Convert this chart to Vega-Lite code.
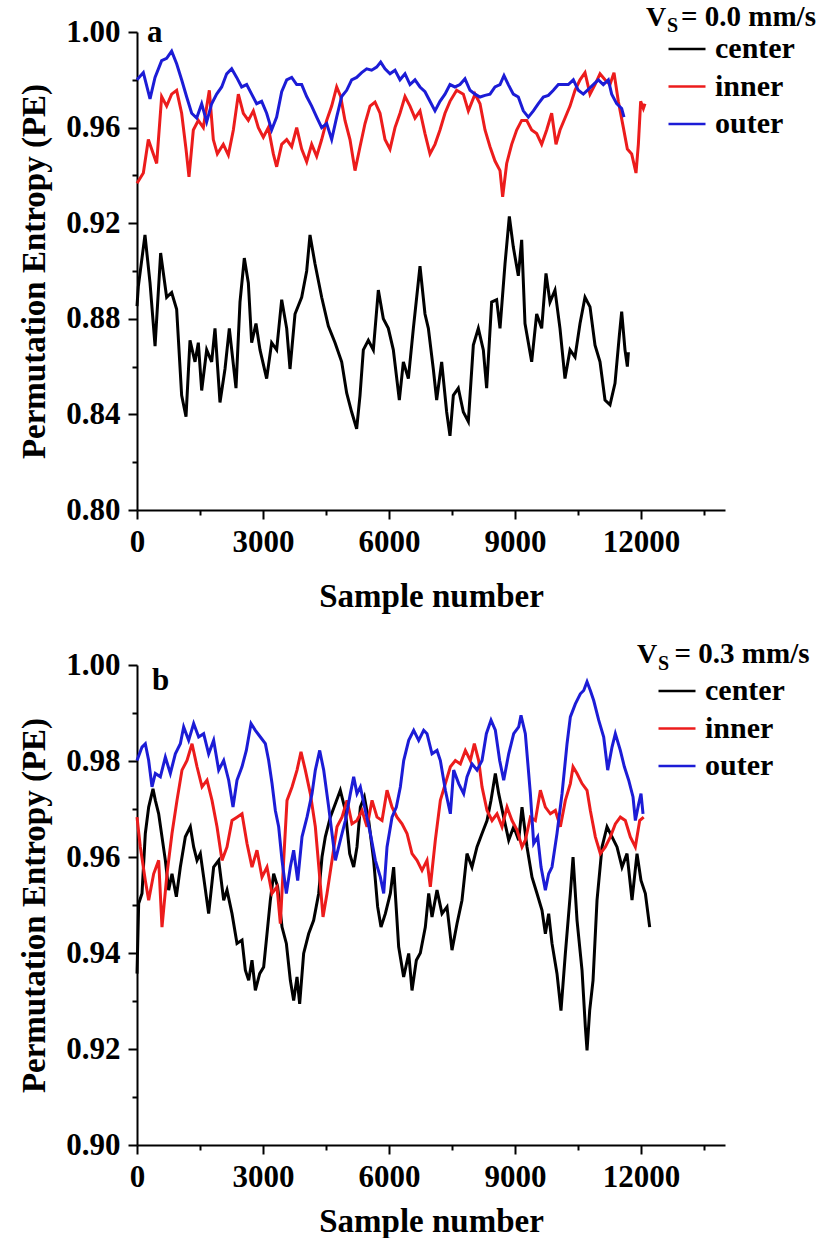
{
  "$schema": "https://vega.github.io/schema/vega-lite/v6.json",
  "background": "white",
  "padding": {"left": 18, "top": 3, "right": 0, "bottom": 0},
  "resolve": {"scale": {"color": "independent"}, "legend": {"color": "independent"}},
  "config": {
    "font": "Liberation Serif",
    "view": {"stroke": null},
    "concat": {"spacing": 27},
    "axis": {
      "grid": false,
      "domainColor": "#000000",
      "domainWidth": 2,
      "tickColor": "#000000",
      "tickWidth": 2,
      "labelFont": "Liberation Serif",
      "labelFontWeight": "bold",
      "labelFontSize": 31,
      "labelColor": "#000000",
      "labelPadding": 8,
      "labelOverlap": false,
      "labelFlush": false,
      "titleFont": "Liberation Serif",
      "titleFontWeight": "bold",
      "titleFontSize": 33,
      "titleColor": "#000000"
    },
    "legend": {
      "labelFont": "Liberation Serif",
      "labelFontWeight": "bold",
      "labelFontSize": 30,
      "labelColor": "#000000",
      "symbolType": "stroke",
      "symbolSize": 1369,
      "symbolStrokeWidth": 2.5,
      "labelOffset": 8,
      "rowPadding": 2.5
    },
    "text": {"font": "Liberation Serif", "fontWeight": "bold", "color": "#000000", "align": "left", "baseline": "alphabetic"}
  },
  "vconcat": [
    {
      "width": 588,
      "height": 478,
      "layer": [
        {
          "data": {"values": [
            {"s": "center",
             "x": [0,32,190,310,430,563,706,825,944,1063,1167,1262,1381,1460,1540,1659,1778,1857,1976,2095,2198,2357,2452,2555,2651,2730,2833,2929,3087,3206,3325,3445,3564,3643,3762,3921,4040,4119,4238,4397,4556,4715,4873,4992,5111,5230,5310,5389,5508,5627,5746,5865,5984,6103,6246,6342,6461,6580,6738,6857,6937,7055,7135,7254,7373,7452,7532,7650,7770,7889,8008,8127,8246,8325,8444,8563,8643,8762,8865,8960,9079,9159,9238,9318,9397,9516,9635,9738,9833,9952,10071,10190,10310,10429,10548,10667,10786,10905,11024,11143,11262,11381,11484,11540,11619,11675,11700],
             "y": [0.8853,0.8936,0.9151,0.895,0.8686,0.9075,0.889,0.891,0.884,0.848,0.839,0.871,0.862,0.870,0.850,0.867,0.862,0.876,0.845,0.859,0.876,0.851,0.887,0.9054,0.895,0.870,0.878,0.867,0.855,0.870,0.867,0.888,0.876,0.859,0.882,0.889,0.900,0.9151,0.903,0.889,0.877,0.870,0.862,0.849,0.841,0.834,0.848,0.867,0.871,0.867,0.892,0.880,0.876,0.867,0.846,0.862,0.855,0.876,0.902,0.882,0.876,0.859,0.846,0.862,0.841,0.831,0.848,0.851,0.841,0.837,0.869,0.876,0.867,0.851,0.887,0.888,0.876,0.903,0.9228,0.910,0.898,0.913,0.878,0.870,0.862,0.882,0.876,0.899,0.887,0.892,0.876,0.855,0.867,0.864,0.878,0.889,0.885,0.869,0.862,0.846,0.844,0.853,0.873,0.883,0.867,0.860,0.866]},
            {"s": "inner",
             "x": [0,151,270,389,468,587,706,825,944,1063,1167,1238,1341,1460,1579,1722,1817,1913,2055,2175,2294,2413,2532,2651,2770,2889,3008,3127,3246,3325,3445,3564,3683,3802,3921,4040,4159,4278,4397,4516,4635,4754,4849,4952,5071,5191,5310,5429,5548,5667,5786,5905,6024,6143,6262,6381,6500,6619,6738,6857,6976,7095,7214,7333,7452,7611,7770,7889,8048,8167,8286,8405,8524,8643,8706,8802,8921,9040,9159,9278,9397,9516,9635,9754,9873,9976,10072,10191,10310,10429,10548,10667,10786,10905,11024,11143,11262,11357,11460,11580,11675,11778,11881,11937,11992,12056,12095],
             "y": [0.9367,0.941,0.955,0.949,0.945,0.973,0.969,0.974,0.9756,0.966,0.951,0.9394,0.959,0.963,0.960,0.9756,0.955,0.949,0.953,0.9485,0.959,0.974,0.966,0.963,0.967,0.960,0.956,0.960,0.949,0.9436,0.953,0.955,0.952,0.960,0.951,0.9457,0.953,0.948,0.955,0.963,0.969,0.977,0.973,0.963,0.955,0.942,0.952,0.9617,0.969,0.9707,0.966,0.955,0.951,0.960,0.966,0.973,0.969,0.964,0.967,0.9575,0.949,0.953,0.959,0.966,0.971,0.9756,0.974,0.967,0.974,0.970,0.959,0.952,0.946,0.942,0.931,0.945,0.953,0.959,0.963,0.963,0.959,0.9575,0.953,0.959,0.966,0.953,0.959,0.964,0.969,0.9756,0.98,0.983,0.974,0.978,0.9825,0.98,0.978,0.983,0.971,0.960,0.951,0.949,0.941,0.953,0.971,0.968,0.970]},
            {"s": "outer",
             "x": [0,151,310,429,587,706,825,944,1063,1183,1302,1421,1540,1659,1778,1897,2016,2135,2254,2373,2492,2611,2730,2849,2968,3087,3206,3325,3445,3564,3683,3802,3921,4040,4159,4278,4397,4516,4635,4754,4873,4992,5111,5230,5349,5468,5587,5706,5802,5905,6024,6143,6262,6381,6500,6619,6738,6857,6976,7095,7214,7333,7452,7571,7690,7809,7929,8048,8167,8286,8405,8524,8643,8738,8841,8960,9079,9198,9318,9437,9556,9675,9794,9913,10032,10151,10270,10389,10508,10627,10746,10865,10984,11103,11222,11302,11421,11540,11595],
             "y": [0.98,0.983,0.972,0.981,0.988,0.989,0.992,0.9867,0.98,0.9728,0.966,0.964,0.970,0.9624,0.970,0.974,0.977,0.9825,0.9846,0.981,0.977,0.978,0.974,0.970,0.971,0.966,0.959,0.9644,0.975,0.98,0.981,0.978,0.978,0.973,0.969,0.9644,0.960,0.9617,0.955,0.9644,0.973,0.9756,0.98,0.981,0.983,0.9846,0.984,0.9853,0.9874,0.9846,0.9825,0.984,0.98,0.9825,0.978,0.98,0.977,0.975,0.971,0.967,0.971,0.974,0.978,0.977,0.978,0.9804,0.9756,0.974,0.9728,0.9735,0.974,0.977,0.978,0.9818,0.978,0.974,0.9728,0.967,0.9644,0.967,0.970,0.9728,0.9735,0.9756,0.978,0.978,0.978,0.98,0.9756,0.974,0.976,0.978,0.98,0.978,0.98,0.974,0.970,0.968,0.9644]}
          ]},
          "transform": [{"flatten": ["x", "y"]}],
          "mark": {"type": "line", "strokeWidth": 3, "strokeJoin": "miter"},
          "encoding": {
            "x": {"field": "x", "type": "quantitative",
              "scale": {"domain": [0, 14000], "nice": false},
              "axis": {"title": "Sample number", "titlePadding": 23,
                "values": [0,1500,3000,4500,6000,7500,9000,10500,12000,13500],
                "format": "d",
                "labelExpr": "datum.value % 3000 == 0 ? datum.label : ''",
                "tickSize": {"condition": {"test": "datum.value % 3000 == 0", "value": 9}, "value": 5}}},
            "y": {"field": "y", "type": "quantitative",
              "scale": {"domain": [0.8, 1.0], "nice": false, "zero": false},
              "axis": {"title": "Permutation Entropy (PE)", "titlePadding": 14,
                "values": [0.8,0.82,0.84,0.86,0.88,0.9,0.92,0.94,0.96,0.98,1.0],
                "format": ".2f",
                "labelExpr": "round(datum.value*100) % 4 == 0 ? datum.label : ''",
                "tickSize": {"condition": {"test": "round(datum.value*100) % 4 == 0", "value": 9}, "value": 5}}},
            "color": {"field": "s", "type": "nominal",
              "scale": {"domain": ["center", "inner", "outer"], "range": ["#000000", "#ec1c1c", "#1c1cd6"]},
              "legend": {"orient": "none", "legendX": 530, "legendY": -3, "title": null}}
          }
        },
        {
          "data": {"values": [{"t": "a"}]},
          "mark": {"type": "text", "fontSize": 31},
          "encoding": {"x": {"datum": 238, "type": "quantitative"}, "y": {"datum": 0.9958, "type": "quantitative"}, "text": {"field": "t"}}
        },
        {
          "data": {"values": [{"t": "V"}]},
          "mark": {"type": "text", "fontSize": 28},
          "encoding": {"x": {"datum": 12120, "type": "quantitative"}, "y": {"datum": 1.0025, "type": "quantitative"}, "text": {"field": "t"}}
        },
        {
          "data": {"values": [{"t": "S"}]},
          "mark": {"type": "text", "fontSize": 20},
          "encoding": {"x": {"datum": 12620, "type": "quantitative"}, "y": {"datum": 1.0, "type": "quantitative"}, "text": {"field": "t"}}
        },
        {
          "data": {"values": [{"t": "= 0.0 mm/s"}]},
          "mark": {"type": "text", "fontSize": 29},
          "encoding": {"x": {"datum": 12953, "type": "quantitative"}, "y": {"datum": 1.0025, "type": "quantitative"}, "text": {"field": "t"}}
        }
      ]
    },
    {
      "width": 588,
      "height": 480,
      "layer": [
        {
          "data": {"values": [
            {"s": "center",
             "x": [0,40,119,198,278,381,437,516,595,675,754,833,937,1032,1151,1270,1349,1429,1508,1587,1706,1825,1945,2064,2143,2262,2381,2500,2580,2659,2738,2818,2921,3016,3095,3175,3254,3349,3453,3556,3651,3730,3810,3873,3968,4087,4206,4326,4405,4484,4603,4722,4841,4960,5064,5159,5238,5318,5413,5516,5635,5730,5810,5913,6032,6111,6230,6349,6469,6548,6651,6746,6865,6945,7024,7143,7262,7381,7500,7619,7738,7857,7976,8095,8215,8334,8429,8532,8612,8730,8850,8969,9088,9167,9286,9405,9524,9643,9723,9802,9881,10000,10095,10199,10318,10382,10477,10596,10675,10715,10778,10858,10953,11072,11191,11310,11429,11548,11667,11786,11905,12000,12104,12207],
             "y": [0.9357,0.9503,0.9524,0.9649,0.9704,0.9742,0.9718,0.969,0.9642,0.9593,0.9531,0.9565,0.9517,0.9579,0.9642,0.9663,0.9621,0.9593,0.9607,0.9558,0.9482,0.9579,0.9593,0.951,0.9531,0.9482,0.942,0.9427,0.9364,0.9343,0.9385,0.9322,0.9357,0.9371,0.944,0.951,0.9565,0.9538,0.9454,0.942,0.9343,0.9301,0.935,0.9294,0.9399,0.944,0.9468,0.9524,0.96,0.9642,0.9683,0.9711,0.9739,0.9697,0.9607,0.9579,0.9621,0.9704,0.9725,0.9676,0.9593,0.9496,0.9454,0.9482,0.9524,0.9579,0.9413,0.935,0.9399,0.9322,0.9385,0.940,0.9454,0.9524,0.9475,0.9531,0.9482,0.9496,0.9406,0.9461,0.951,0.9607,0.9579,0.9621,0.9649,0.9676,0.9718,0.9774,0.9732,0.9683,0.9635,0.9663,0.9635,0.9704,0.9621,0.9558,0.9524,0.9489,0.944,0.9482,0.942,0.9357,0.928,0.9399,0.9524,0.96,0.9468,0.9364,0.9246,0.9197,0.928,0.9343,0.951,0.9621,0.9663,0.9642,0.9621,0.9579,0.9607,0.951,0.9607,0.9551,0.9524,0.9454]},
            {"s": "inner",
             "x": [0,79,198,278,397,516,595,714,833,952,1071,1191,1310,1429,1548,1667,1786,1905,2024,2143,2262,2381,2500,2619,2738,2857,2976,3095,3214,3334,3413,3492,3572,3691,3810,3905,4008,4127,4246,4350,4429,4524,4643,4762,4881,5000,5119,5238,5357,5477,5596,5715,5834,5953,6072,6191,6310,6429,6548,6667,6786,6905,6984,7103,7223,7342,7461,7580,7699,7818,7937,8032,8135,8215,8334,8453,8572,8691,8810,8929,9048,9167,9246,9366,9485,9604,9723,9842,9961,10080,10199,10318,10382,10477,10596,10715,10794,10913,11032,11151,11270,11389,11508,11627,11746,11865,11969,12064],
             "y": [0.9683,0.9621,0.9551,0.951,0.9565,0.9593,0.9454,0.9565,0.9649,0.9718,0.9781,0.9801,0.9836,0.9788,0.9746,0.976,0.9718,0.9663,0.9593,0.9621,0.9676,0.9683,0.969,0.9628,0.9579,0.9614,0.9558,0.9579,0.9524,0.9538,0.9461,0.9593,0.9718,0.9746,0.9781,0.9819,0.9781,0.9732,0.9663,0.9558,0.9475,0.9524,0.9593,0.9663,0.9683,0.9718,0.9669,0.9676,0.9697,0.9663,0.9718,0.9683,0.9676,0.9739,0.9704,0.9683,0.9669,0.9649,0.9607,0.9593,0.9572,0.9593,0.9538,0.9635,0.9718,0.9753,0.9788,0.9801,0.9794,0.9822,0.9801,0.9836,0.9801,0.9746,0.9697,0.9676,0.969,0.9663,0.9704,0.9676,0.9656,0.9621,0.9635,0.9683,0.9676,0.9739,0.9704,0.969,0.9697,0.9663,0.9718,0.9753,0.9788,0.9774,0.9753,0.9739,0.9697,0.9642,0.9607,0.9621,0.9642,0.9669,0.9683,0.9676,0.9642,0.9621,0.9676,0.9683]},
            {"s": "outer",
             "x": [0,119,198,278,357,437,556,675,794,913,1032,1111,1230,1349,1468,1587,1706,1825,1945,2064,2183,2286,2381,2500,2603,2715,2818,2937,3056,3135,3215,3294,3373,3453,3556,3651,3730,3826,3929,4048,4167,4246,4350,4445,4564,4643,4723,4842,4961,5080,5159,5238,5318,5437,5556,5675,5794,5874,5953,6072,6175,6270,6350,6469,6588,6707,6826,6905,7024,7143,7223,7342,7461,7540,7659,7778,7857,7976,8096,8215,8318,8429,8532,8635,8731,8850,8969,9088,9143,9246,9366,9445,9540,9620,9723,9802,9881,10000,10120,10239,10318,10437,10556,10636,10715,10794,10874,10993,11112,11207,11310,11389,11508,11604,11707,11810,11866,11945,12000,12048],
             "y": [0.9801,0.9829,0.9836,0.9801,0.9746,0.9774,0.9767,0.9808,0.9774,0.9815,0.9836,0.9871,0.9843,0.9878,0.985,0.9857,0.9815,0.9843,0.9781,0.9801,0.976,0.9704,0.976,0.9788,0.9822,0.9878,0.9864,0.985,0.9836,0.9801,0.9753,0.9697,0.9663,0.9593,0.9524,0.9579,0.9614,0.9551,0.9642,0.9683,0.9732,0.9781,0.9822,0.9781,0.9704,0.9649,0.9593,0.9635,0.9676,0.9732,0.9767,0.9732,0.9746,0.9697,0.9649,0.9593,0.9558,0.9524,0.9621,0.9683,0.9704,0.9746,0.9801,0.9843,0.9864,0.9843,0.9864,0.9857,0.9815,0.9822,0.9801,0.9739,0.969,0.9781,0.9753,0.9732,0.9767,0.9794,0.9781,0.9801,0.9857,0.9885,0.9864,0.9801,0.976,0.9815,0.9857,0.9871,0.9895,0.9857,0.9732,0.9628,0.9642,0.9579,0.9531,0.9565,0.9579,0.9649,0.9732,0.9836,0.9892,0.9919,0.994,0.9947,0.9965,0.9947,0.9926,0.9885,0.985,0.9781,0.9829,0.9857,0.9822,0.9788,0.976,0.9725,0.9676,0.9711,0.9732,0.969]}
          ]},
          "transform": [{"flatten": ["x", "y"]}],
          "mark": {"type": "line", "strokeWidth": 3, "strokeJoin": "miter"},
          "encoding": {
            "x": {"field": "x", "type": "quantitative",
              "scale": {"domain": [0, 14000], "nice": false},
              "axis": {"title": "Sample number", "titlePadding": 13,
                "values": [0,1500,3000,4500,6000,7500,9000,10500,12000,13500],
                "format": "d",
                "labelExpr": "datum.value % 3000 == 0 ? datum.label : ''",
                "tickSize": {"condition": {"test": "datum.value % 3000 == 0", "value": 9}, "value": 5}}},
            "y": {"field": "y", "type": "quantitative",
              "scale": {"domain": [0.9, 1.0], "nice": false, "zero": false},
              "axis": {"title": "Permutation Entropy (PE)", "titlePadding": 14,
                "values": [0.9,0.91,0.92,0.93,0.94,0.95,0.96,0.97,0.98,0.99,1.0],
                "format": ".2f",
                "labelExpr": "round(datum.value*100) % 2 == 0 ? datum.label : ''",
                "tickSize": {"condition": {"test": "round(datum.value*100) % 2 == 0", "value": 9}, "value": 5}}},
            "color": {"field": "s", "type": "nominal",
              "scale": {"domain": ["center", "inner", "outer"], "range": ["#000000", "#ec1c1c", "#1c1cd6"]},
              "legend": {"orient": "none", "legendX": 520, "legendY": 6, "title": null}}
          }
        },
        {
          "data": {"values": [{"t": "b"}]},
          "mark": {"type": "text", "fontSize": 31},
          "encoding": {"x": {"datum": 357, "type": "quantitative"}, "y": {"datum": 0.9948, "type": "quantitative"}, "text": {"field": "t"}}
        },
        {
          "data": {"values": [{"t": "V"}]},
          "mark": {"type": "text", "fontSize": 28},
          "encoding": {"x": {"datum": 11905, "type": "quantitative"}, "y": {"datum": 1.0004, "type": "quantitative"}, "text": {"field": "t"}}
        },
        {
          "data": {"values": [{"t": "S"}]},
          "mark": {"type": "text", "fontSize": 20},
          "encoding": {"x": {"datum": 12405, "type": "quantitative"}, "y": {"datum": 0.9990, "type": "quantitative"}, "text": {"field": "t"}}
        },
        {
          "data": {"values": [{"t": "= 0.3 mm/s"}]},
          "mark": {"type": "text", "fontSize": 29},
          "encoding": {"x": {"datum": 12800, "type": "quantitative"}, "y": {"datum": 1.0004, "type": "quantitative"}, "text": {"field": "t"}}
        }
      ]
    }
  ]
}
